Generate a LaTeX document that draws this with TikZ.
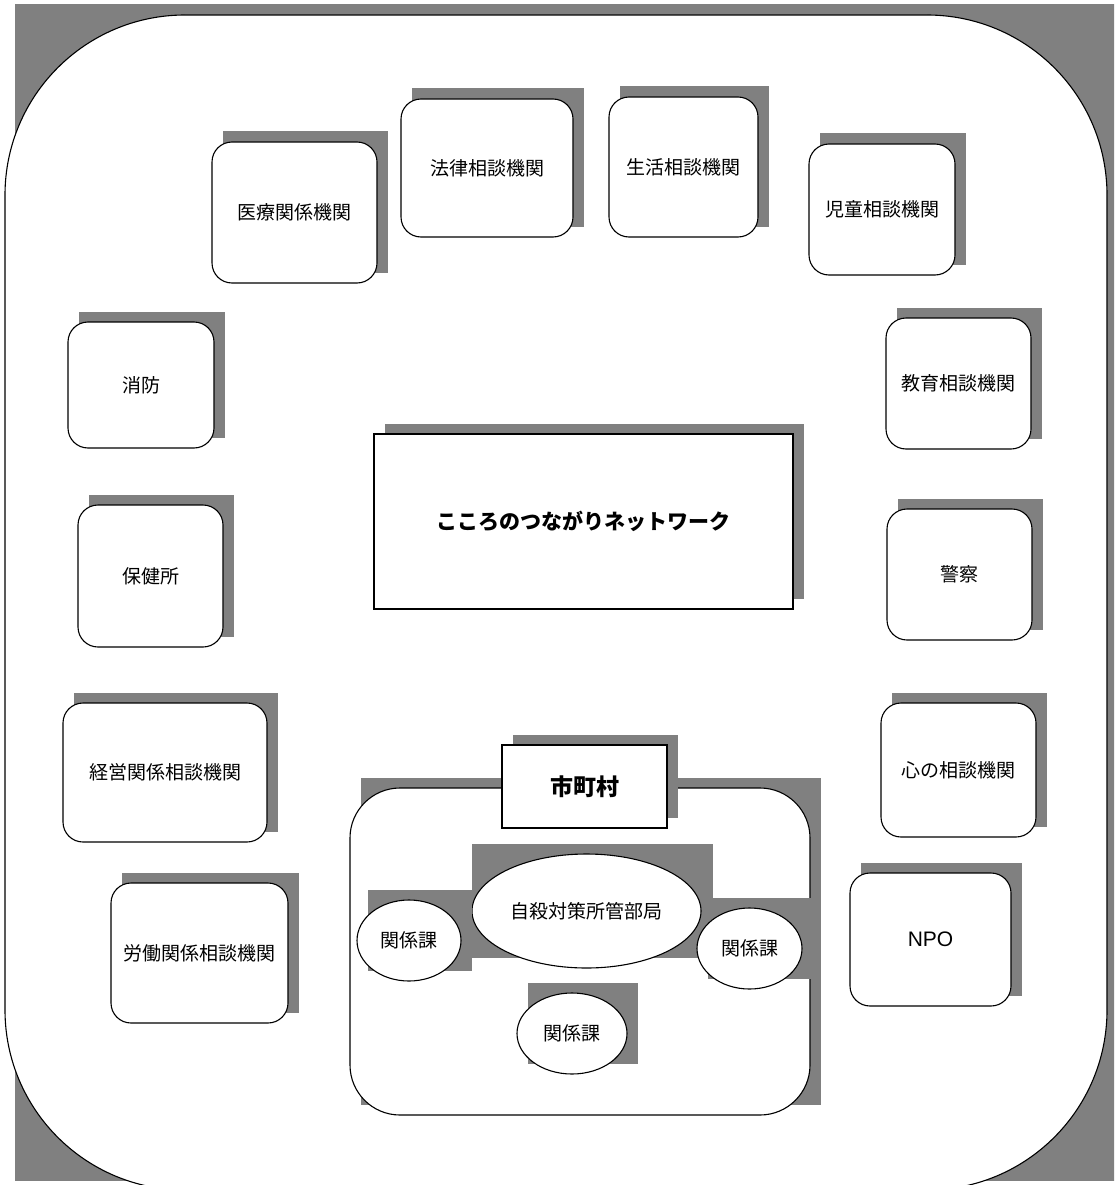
\documentclass[tikz,border=0pt]{standalone}
\usepackage{fontspec}
\setmainfont{Noto Sans CJK JP}
\newfontfamily\latinfont{Liberation Sans}
\usetikzlibrary{shapes.geometric}
\definecolor{shcol}{HTML}{808080}
\tikzset{
  every node/.style={inner sep=0pt, outer sep=0pt},
  line/.style={draw=black, line width=1.1pt, fill=white},
  rbox/.style={line, rounded corners=20pt, font=\fontsize{19}{22}\selectfont},
  sbox/.style={line, font=\bfseries\fontsize{21}{25}\selectfont},
  ebox/.style={line, ellipse, font=\fontsize{19}{22}\selectfont},
  shadowfill/.style={fill=shcol, draw=none}
}
% #1 name, #2 cx, #3 cy, #4 w, #5 h, #6 style, #7 text
\newcommand{\shnode}[7]{%
  \fill[shadowfill] ({#2-#4/2+10.5},{#3-#5/2-10.5}) rectangle ++(#4,#5);
  \node[#6, minimum width=#4pt, minimum height=#5pt] (#1) at (#2,#3) {#7};
}
\begin{document}
\begin{tikzpicture}[x=1pt,y=-1pt]
\useasboundingbox (0,0) rectangle (1114,1185);
\clip (0,0) rectangle (1114,1185);
% outer frame
\fill[shadowfill] (15,4) rectangle (1125,1181);
\draw[line, rounded corners=180pt] (5,15) rectangle (1107,1190);
% outer boxes
\shnode{med}{294.5}{212.5}{165}{141}{rbox}{医療関係機関}
\shnode{law}{487}{168}{172}{138}{rbox}{法律相談機関}
\shnode{life}{683.5}{167}{149}{140}{rbox}{生活相談機関}
\shnode{child}{882}{209.5}{146}{131}{rbox}{児童相談機関}
\shnode{fire}{141}{385}{146}{126}{rbox}{消防}
\shnode{edu}{958.5}{383.5}{145}{131}{rbox}{教育相談機関}
\shnode{net}{583.5}{521.5}{419}{175}{sbox}{こころのつながりネットワーク}
\shnode{health}{150.5}{576}{145}{142}{rbox}{保健所}
\shnode{police}{959.5}{574.5}{145}{131}{rbox}{警察}
\shnode{mgmt}{165}{772.5}{204}{139}{rbox}{経営関係相談機関}
\shnode{heart}{958.5}{770}{155}{134}{rbox}{心の相談機関}
\shnode{labor}{199.5}{953}{177}{140}{rbox}{労働関係相談機関}
\shnode{npo}{930.5}{939.5}{161}{133}{rbox, font=\latinfont\fontsize{21}{24}\selectfont}{NPO}
% municipality group
\shnode{group}{580}{951.5}{460}{327}{line, rounded corners=50pt}{}
\shnode{city}{584.5}{786.5}{165}{83}{sbox, font=\bfseries\fontsize{23}{27}\selectfont}{市町村}
\fill[shadowfill] (472,843.5) rectangle (713,957.5);
\node[ebox, minimum width=229pt, minimum height=114pt] (bureau) at (586.5,911) {自殺対策所管部局};
\shnode{k1}{409}{940.5}{104}{81}{ebox}{関係課}
\shnode{k2}{749.5}{948.5}{105}{81}{ebox}{関係課}
\shnode{k3}{572}{1033.5}{110}{81}{ebox}{関係課}
\end{tikzpicture}
\end{document}
